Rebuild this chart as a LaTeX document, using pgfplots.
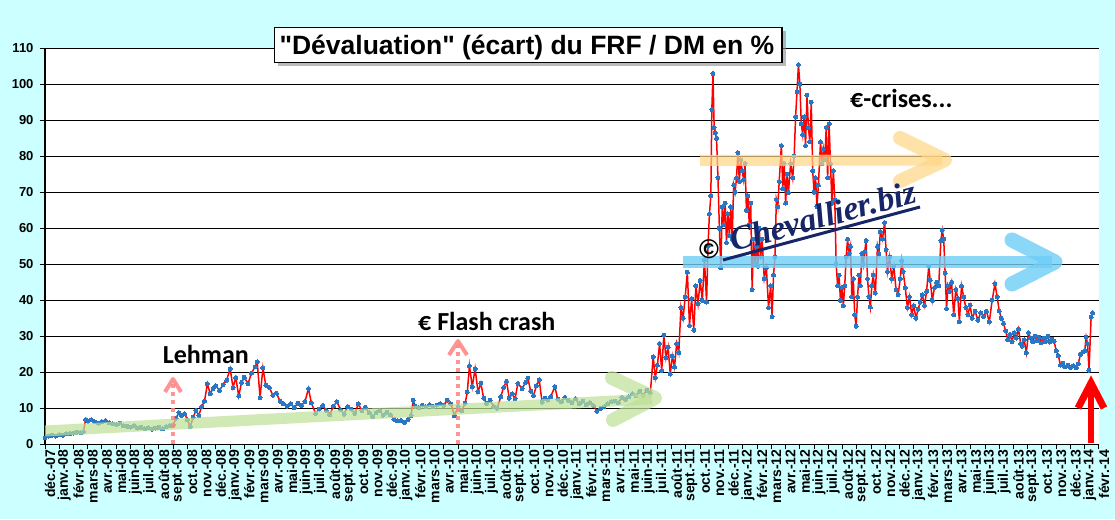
\documentclass[border=0pt]{standalone}
\usepackage{pgfplots}
\pgfplotsset{compat=1.18}
\usepackage{fontspec}
\setmainfont{Liberation Sans}
\newfontfamily\titlefont[Ligatures=TeXOff]{Liberation Sans}
\newfontfamily\calib{Carlito}
\newfontfamily\wmfont{Liberation Serif}
\definecolor{bgcyan}{RGB}{204,255,255}
\definecolor{markblue}{RGB}{40,118,196}
\definecolor{greenband}{RGB}{190,224,150}
\definecolor{orangeband}{RGB}{255,214,130}
\definecolor{blueband}{RGB}{110,205,245}
\definecolor{pinkarrow}{RGB}{255,130,130}
\definecolor{navy}{RGB}{22,38,105}
\begin{document}
\begin{tikzpicture}[x=1pt,y=1pt]
\fill[bgcyan] (0,0) rectangle (1115,519);
\begin{axis}[
  at={(45pt,74.7pt)}, anchor=south west,
  scale only axis, width=1054pt, height=396pt,
  xmin=0, xmax=74, ymin=0, ymax=110,
  axis background/.style={fill=white},
  axis x line*=bottom, axis y line*=left,
  axis line style={black, line width=1.2pt},
  tick align=outside, major tick length=5pt,
  tick style={black, line width=1pt},
  ytick={0,10,...,110},
  ymajorgrids, grid style={black, line width=1.1pt},
  xtick={0,...,74},
  xticklabels={déc.-07,janv.-08,févr.-08,mars-08,avr.-08,mai-08,juin-08,juil.-08,août-08,sept.-08,oct.-08,nov.-08,déc.-08,janv.-09,févr.-09,mars-09,avr.-09,mai-09,juin-09,juil.-09,août-09,sept.-09,oct.-09,nov.-09,déc.-09,janv.-10,févr.-10,mars-10,avr.-10,mai-10,juin-10,juil.-10,août-10,sept.-10,oct.-10,nov.-10,déc.-10,janv.-11,févr.-11,mars-11,avr.-11,mai-11,juin-11,juil.-11,août-11,sept.-11,oct.-11,nov.-11,déc.-11,janv.-12,févr.-12,mars-12,avr.-12,mai-12,juin-12,juil.-12,août-12,sept.-12,oct.-12,nov.-12,déc.-12,janv.-13,févr.-13,mars-13,avr.-13,mai-13,juin-13,juil.-13,août-13,sept.-13,oct.-13,nov.-13,déc.-13,janv.-14,févr.-14},
  xticklabel style={rotate=90, anchor=east, font=\bfseries\fontsize{14}{14}\selectfont, inner sep=0pt, yshift=-5pt},
  yticklabel style={font=\bfseries\fontsize{13}{13}\selectfont, xshift=-3pt},
  /pgf/number format/assume math mode=true,
  clip=false,
]
\addplot[red, line width=1.5pt, mark=*, mark size=2pt, mark options={fill=markblue, draw=markblue, line width=0pt, solid}] table {
x y
0 1.8
0.25 2.3
0.5 2.5
0.75 2.3
1 2.6
1.25 2.5
1.5 2.9
1.75 3.0
2 3.1
2.25 3.4
2.5 3.2
2.7 3.5
2.85 6.9
3 6.4
3.25 6.8
3.5 6.2
3.75 5.9
4 6.3
4.25 6.6
4.5 6.0
4.75 5.7
5 5.5
5.25 5.9
5.5 5.2
5.75 5.0
6 4.8
6.25 5.2
6.5 4.5
6.75 4.7
7 4.3
7.25 4.6
7.5 4.2
7.75 4.5
8 4.7
8.25 4.3
8.5 4.9
8.75 5.2
9 5.4
9.2 7.2
9.4 8.8
9.6 8.0
9.8 8.5
10 6.8
10.2 4.9
10.4 7.5
10.6 9.4
10.8 8.0
11 10.5
11.2 12.0
11.4 16.8
11.6 14.0
11.8 15.5
12 16.2
12.25 15.0
12.5 16.5
12.75 17.8
13 21.0
13.2 15.8
13.4 18.5
13.6 13.4
13.8 17.2
14 18.6
14.25 16.8
14.5 19.8
14.75 21.5
14.9 22.9
15.1 13.0
15.3 21.2
15.5 16.4
15.75 15.8
16 13.6
16.25 14.2
16.5 12.0
16.75 11.2
17 10.6
17.25 11.3
17.5 10.2
17.75 11.4
18 10.8
18.25 11.8
18.5 15.5
18.7 11.5
19 8.6
19.25 9.8
19.5 10.8
19.75 9.4
20 8.2
20.25 10.6
20.5 11.8
20.75 9.6
21 8.4
21.25 10.5
21.5 9.8
21.75 8.6
22 11.2
22.25 9.4
22.5 10.3
22.75 8.7
23 7.6
23.25 8.8
23.5 9.3
23.75 8.1
24 8.9
24.25 8.2
24.5 7.0
24.75 6.5
25 6.6
25.25 6.1
25.5 6.9
25.7 8.0
25.85 12.2
26 10.6
26.25 10.2
26.5 10.9
26.75 10.4
27 11.0
27.25 10.5
27.5 10.9
27.75 11.3
28 10.8
28.25 12.3
28.5 11.2
28.75 7.9
29 10.5
29.25 9.3
29.5 11.4
29.65 14.5
29.8 21.8
30 16.0
30.2 21.0
30.4 14.6
30.6 17.0
30.8 12.8
31 11.4
31.25 12.2
31.5 10.5
31.75 10.0
32 13.2
32.2 15.8
32.4 17.5
32.6 12.8
32.8 14.0
33 12.6
33.2 16.9
33.5 15.5
33.75 17.2
33.9 18.4
34.1 14.8
34.3 13.6
34.5 16.2
34.7 17.9
34.9 11.7
35.1 12.8
35.3 12.3
35.5 13.2
35.8 16.0
36 12.5
36.25 11.8
36.5 13.0
36.75 12.2
37 11.5
37.25 12.6
37.5 11.2
37.75 12.0
38 11.0
38.25 11.6
38.5 10.8
38.75 9.2
39 10.0
39.25 10.4
39.5 11.3
39.75 11.8
40 12.0
40.25 11.5
40.5 13.0
40.75 12.5
41 13.2
41.25 14.0
41.5 13.5
41.75 14.8
42 13.6
42.25 15.0
42.5 14.2
42.7 24.3
42.85 18.5
43 22.0
43.15 28.0
43.3 20.5
43.45 30.3
43.6 24.0
43.75 27.0
43.9 19.5
44.05 24.5
44.2 21.5
44.35 28.0
44.5 25.5
44.65 38.0
44.8 35.0
44.95 41.0
45.1 47.8
45.25 33.0
45.4 40.5
45.55 31.7
45.7 44.0
45.85 39.0
46 45.5
46.15 40.0
46.3 51.2
46.45 39.5
46.55 55.0
46.65 64.0
46.75 69.0
46.82 93.0
46.9 103.0
46.98 88.0
47.06 86.5
47.15 85.0
47.25 74.0
47.35 60.0
47.45 49.0
47.55 66.0
47.65 61.0
47.75 67.0
47.85 56.0
47.95 64.0
48.05 58.0
48.15 66.0
48.25 57.0
48.35 72.0
48.45 70.0
48.55 74.0
48.65 81.0
48.75 73.0
48.85 79.0
48.95 76.0
49.05 73.5
49.15 78.0
49.25 65.0
49.35 69.0
49.45 61.0
49.55 67.0
49.65 43.0
49.75 57.0
49.85 50.0
49.95 55.0
50.05 49.5
50.15 60.0
50.25 52.0
50.35 57.0
50.5 46.0
50.65 49.0
50.8 38.0
50.95 44.0
51.05 35.5
51.15 47.0
51.25 52.0
51.35 68.0
51.45 66.0
51.55 73.0
51.7 83.0
51.8 71.0
51.9 78.0
52.0 67.0
52.1 75.0
52.2 70.0
52.35 78.0
52.5 74.0
52.6 80.0
52.7 91.0
52.8 98.0
52.9 105.5
53.0 100.0
53.1 89.0
53.2 86.0
53.3 91.0
53.4 83.0
53.5 97.0
53.6 88.0
53.7 84.0
53.8 95.0
53.9 76.0
54.0 70.0
54.1 74.0
54.2 66.0
54.3 72.0
54.45 84.0
54.55 78.0
54.65 82.0
54.75 79.0
54.85 88.0
54.95 74.0
55.05 89.0
55.15 78.0
55.25 67.0
55.35 76.0
55.45 68.0
55.55 50.0
55.65 44.0
55.75 47.0
55.85 40.0
55.95 43.5
56.05 38.5
56.15 44.0
56.25 52.0
56.35 57.0
56.45 53.0
56.55 55.0
56.65 41.0
56.75 46.0
56.85 36.0
56.95 32.8
57.05 41.0
57.15 47.0
57.25 44.0
57.35 53.0
57.45 50.0
57.55 53.5
57.65 56.6
57.75 46.0
57.85 41.0
57.95 38.1
58.05 44.0
58.15 47.0
58.3 42.0
58.45 55.0
58.55 53.0
58.65 59.0
58.8 57.0
58.95 61.6
59.05 54.0
59.15 48.0
59.3 52.0
59.45 46.0
59.6 49.4
59.75 43.0
59.9 41.6
60.05 46.0
60.15 51.0
60.25 48.0
60.4 43.5
60.55 38.0
60.7 41.0
60.85 36.0
61.0 38.5
61.15 35.0
61.3 37.5
61.45 39.5
61.6 41.5
61.75 38.6
61.9 42.5
62.05 49.5
62.15 45.6
62.3 40.0
62.45 43.5
62.6 45.0
62.75 44.0
62.9 56.6
63.0 59.5
63.1 57.0
63.2 47.5
63.3 37.7
63.4 44.0
63.5 42.5
63.65 45.0
63.8 36.0
63.95 43.0
64.1 40.5
64.2 34.0
64.35 44.0
64.5 41.0
64.65 38.0
64.8 36.0
64.95 38.6
65.1 35.0
65.3 37.0
65.5 34.5
65.7 36.5
65.9 35.5
66.1 37.0
66.3 34.0
66.5 40.0
66.7 44.6
66.85 41.0
67.0 37.0
67.15 35.0
67.3 33.6
67.45 31.5
67.6 29.0
67.75 30.5
67.9 28.5
68.05 31.0
68.2 29.5
68.35 32.0
68.5 28.0
68.6 27.2
68.75 29.0
68.9 25.4
69.05 31.0
69.2 29.5
69.35 28.5
69.5 30.0
69.65 28.8
69.8 29.8
69.95 28.2
70.1 29.5
70.25 28.6
70.4 30.0
70.55 28.4
70.7 29.2
70.85 28.6
71.0 26.0
71.15 24.6
71.3 22.0
71.45 22.5
71.6 21.5
71.8 22.0
72.0 21.3
72.2 21.8
72.4 21.2
72.55 22.4
72.7 25.0
72.85 25.6
73.0 26.0
73.1 29.8
73.2 28.0
73.3 20.6
73.45 35.3
73.55 36.5
};
\end{axis}
% green trend arrow
\begin{scope}[opacity=0.7]
\draw[greenband, line width=11pt] (45,88) -- (652,120);
\draw[greenband, line width=14pt, line cap=round, line join=round] (612,141) -- (655,121) -- (613,99);
\end{scope}
% orange arrow
\begin{scope}[opacity=0.7]
\draw[orangeband, line width=11pt] (700,358.5) -- (942,359);
\draw[orangeband, line width=14pt, line cap=round, line join=round] (900,381) -- (945,359) -- (900,338);
\end{scope}
% blue arrow
\begin{scope}[opacity=0.8]
\draw[blueband, line width=12pt] (683,257) -- (1052,257);
\draw[blueband, line width=15pt, line cap=round, line join=round] (1012,279) -- (1055,257) -- (1012,235);
\end{scope}
% pink dotted arrows
\begin{scope}[opacity=0.85]
\draw[pinkarrow, line width=4pt, dash pattern=on 4pt off 4pt] (173,75) -- (173,136);
\draw[pinkarrow, line width=4pt, line join=round] (165,127) -- (173,140) -- (181,127);
\draw[pinkarrow, line width=4pt, dash pattern=on 4pt off 4pt] (458,75) -- (458,174);
\draw[pinkarrow, line width=4pt, line join=round] (449,164) -- (458,178) -- (467,164);
\end{scope}
% red arrow
\draw[red, line width=6pt] (1091,76) -- (1091,134);
\draw[red, line width=7pt, line join=miter] (1078,111) -- (1091,136) -- (1104,111);
% texts
\node[anchor=base west, inner sep=0] at (162.7,155.7) {\calib\bfseries\fontsize{26}{26}\selectfont Lehman};
\node[anchor=base west, inner sep=0] at (418,188) {\calib\bfseries\fontsize{26}{26}\selectfont €~Flash crash};
\node[anchor=base west, inner sep=0] at (850,411) {\calib\bfseries\fontsize{26}{26}\selectfont €-crises...};
% watermark
\node[rotate=15, anchor=base west, inner sep=0, text=navy] at (733,267) {\wmfont\bfseries\itshape\fontsize{34}{34}\selectfont Chevallier.biz};
\draw[navy, line width=3pt] (723,259) -- (920,312);
\node[inner sep=0] at (709,270) {\bfseries\fontsize{27}{27}\selectfont ©};
% title
\fill[black!45, opacity=0.6] (278,452.7) rectangle (786,487.7);
\draw[fill=white, line width=1.3pt] (274.3,456.7) rectangle (782,491.7);
\node[anchor=base west, inner sep=0] at (279.3,464.7) {\titlefont\bfseries\fontsize{26.5}{26.5}\selectfont "Dévaluation" (écart) du FRF / DM en \%};
\pgfresetboundingbox
\useasboundingbox (0,0) rectangle (1115,519);
\end{tikzpicture}
\end{document}
